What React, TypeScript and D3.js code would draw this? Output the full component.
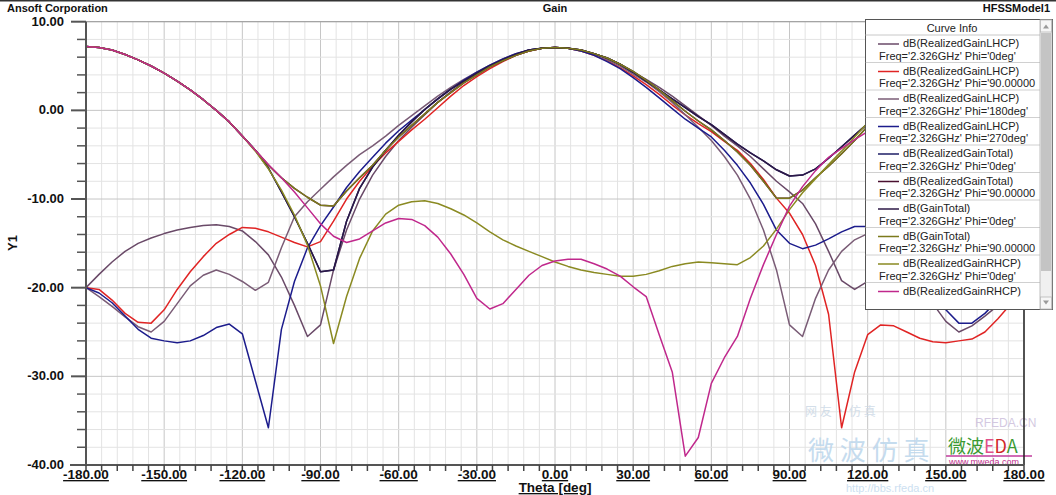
import React from 'react';
import * as d3 from 'd3';

// Theta sample grid (deg) — the simulation is sampled every 5 degrees
const theta = d3.range(-180, 181, 5);

// ---- Series values (dB), theta = -180 .. 180 step 5 ----
const lhcpPhi0 = [
  -20.0, -18.5, -17.1, -15.9, -15.0, -14.4, -13.9, -13.5, -13.2, -13.0, -12.9, -13.1, -13.6, -14.8,
  -16.3, -18.8, -22.0, -25.5, -24.2, -18.0, -13.5, -10.0, -7.3, -5.2, -3.4, -1.9, -0.5, 0.9, 2.1, 3.2, 4.1, 5.0, 5.7, 6.3, 6.7, 7.0,
  7.1, 7.0, 6.8, 6.4, 5.8, 5.1, 4.3, 3.5, 2.6, 1.6, 0.5, -0.6, -1.7, -2.9, -4.0, -5.2, -6.6, -8.0, -9.2, -10.5,
  -12.8, -15.9, -19.2, -20.2, -19.3, -18.5, -18.0, -18.6, -19.8, -21.8, -23.8, -25.0, -24.3, -23.2, -22.0, -21.0, -20.0,
];
const lhcpPhi90 = [
  -20.0, -20.2, -21.4, -22.9, -23.9, -24.0, -22.5, -20.2, -18.2, -16.5, -15.0, -14.0, -13.2, -13.3,
  -13.7, -14.3, -14.9, -15.4, -14.8, -12.5, -10.0, -8.0, -6.3, -4.8, -3.5, -2.2, -1.0, 0.3, 1.6, 2.8, 3.8, 4.7, 5.5, 6.2, 6.7, 7.0,
  7.1, 7.0, 6.7, 6.2, 5.6, 4.8, 3.9, 2.9, 1.8, 0.6, -0.5, -1.5, -2.4, -3.5, -4.5, -6.0, -7.8, -9.9, -11.6, -14.0,
  -17.5, -23.0, -35.8, -29.5, -25.3, -24.2, -24.3, -25.0, -25.7, -26.1, -26.2, -26.0, -25.8, -25.0, -23.5, -21.8, -20.0,
];
const lhcpPhi180 = [
  -20.0, -21.0, -22.1, -23.3, -24.4, -25.0, -23.8, -21.8, -19.8, -18.6, -18.0, -18.5, -19.3, -20.3,
  -19.4, -15.5, -12.0, -10.3, -8.9, -7.5, -6.2, -5.0, -4.0, -2.9, -1.7, -0.6, 0.5, 1.6, 2.6, 3.5, 4.3, 5.1, 5.8, 6.4, 6.8, 7.0,
  7.1, 7.0, 6.7, 6.3, 5.7, 5.0, 4.1, 3.2, 2.1, 0.9, -0.5, -1.9, -3.4, -5.2, -7.3, -10.0, -13.5, -18.0, -24.2, -25.5,
  -21.2, -18.0, -15.9, -14.6, -13.9, -13.1, -12.9, -13.0, -13.2, -13.5, -13.9, -14.4, -15.0, -15.9, -17.1, -18.5, -20.0,
];
const lhcpPhi270 = [
  -20.0, -20.6, -21.7, -23.2, -24.7, -25.7, -26.0, -26.2, -26.0, -25.4, -24.5, -24.1, -25.2, -30.5,
  -35.8, -24.7, -19.3, -15.5, -13.0, -10.9, -8.7, -6.9, -5.3, -3.7, -2.3, -1.1, 0.1, 1.3, 2.4, 3.4, 4.3, 5.1, 5.8, 6.4, 6.8, 7.0,
  7.1, 7.0, 6.7, 6.2, 5.5, 4.7, 3.7, 2.6, 1.4, 0.2, -1.0, -2.0, -3.0, -4.5, -6.2, -8.2, -10.6, -13.5, -15.0, -15.6,
  -15.2, -14.5, -13.7, -13.1, -13.1, -13.8, -15.0, -16.5, -18.3, -20.3, -22.5, -24.0, -24.0, -22.9, -21.4, -20.2, -20.0,
];
const realizedTotalPhi0 = [
  7.2, 7.1, 6.8, 6.3, 5.7, 5.0, 4.2, 3.3, 2.3, 1.2, 0.0, -1.3, -2.9, -4.5,
  -6.5, -9.2, -12.0, -15.0, -18.2, -18.0, -12.5, -8.8, -6.4, -4.5, -2.8, -1.3, 0.1, 1.3, 2.4, 3.3, 4.2, 5.0, 5.7, 6.3, 6.8, 7.0,
  7.1, 7.0, 6.8, 6.4, 5.9, 5.2, 4.3, 3.3, 2.3, 1.3, 0.3, -0.7, -1.6, -2.7, -3.8, -4.8, -5.7, -6.7, -7.4, -7.3,
  -6.6, -5.4, -4.1, -2.8, -1.5, -0.1, 1.2, 2.3, 3.3, 4.2, 5.0, 5.7, 6.2, 6.6, 6.9, 7.1, 7.2,
];
const realizedTotalPhi90 = [
  7.2, 7.1, 6.8, 6.3, 5.7, 5.0, 4.2, 3.3, 2.3, 1.2, 0.0, -1.3, -2.9, -4.5,
  -6.2, -7.6, -8.8, -9.8, -10.7, -10.8, -9.1, -7.6, -6.2, -4.5, -3.0, -1.7, -0.4, 0.9, 2.0, 3.1, 4.0, 4.9, 5.6, 6.2, 6.7, 7.0,
  7.1, 7.0, 6.8, 6.4, 5.9, 5.2, 4.4, 3.4, 2.3, 1.1, -0.1, -1.2, -2.2, -3.4, -4.7, -6.2, -8.0, -9.9, -9.9, -9.0,
  -7.6, -6.3, -4.9, -3.4, -1.8, -0.3, 1.1, 2.3, 3.4, 4.3, 5.1, 5.8, 6.3, 6.7, 7.0, 7.1, 7.2,
];
const gainTotalPhi0 = [
  7.2, 7.1, 6.8, 6.3, 5.7, 5.0, 4.2, 3.3, 2.3, 1.2, 0.0, -1.3, -2.9, -4.5,
  -6.5, -9.2, -12.0, -15.0, -18.2, -18.0, -12.5, -8.8, -6.4, -4.5, -2.8, -1.3, 0.1, 1.3, 2.4, 3.3, 4.2, 5.0, 5.7, 6.3, 6.8, 7.0,
  7.1, 7.0, 6.8, 6.4, 5.9, 5.2, 4.3, 3.3, 2.3, 1.3, 0.3, -0.7, -1.6, -2.7, -3.8, -4.8, -5.7, -6.7, -7.4, -7.3,
  -6.6, -5.4, -4.1, -2.8, -1.5, -0.1, 1.2, 2.3, 3.3, 4.2, 5.0, 5.7, 6.2, 6.6, 6.9, 7.1, 7.2,
];
const gainTotalPhi90 = [
  7.2, 7.1, 6.8, 6.3, 5.7, 5.0, 4.2, 3.3, 2.3, 1.2, 0.0, -1.3, -2.9, -4.5,
  -6.2, -7.6, -8.8, -9.8, -10.7, -10.8, -9.1, -7.6, -6.2, -4.5, -3.0, -1.7, -0.4, 0.9, 2.0, 3.1, 4.0, 4.9, 5.6, 6.2, 6.7, 7.0,
  7.1, 7.0, 6.8, 6.4, 5.9, 5.2, 4.4, 3.4, 2.3, 1.1, -0.1, -1.2, -2.2, -3.4, -4.7, -6.2, -8.0, -9.9, -9.9, -9.0,
  -7.6, -6.3, -4.9, -3.4, -1.8, -0.3, 1.1, 2.3, 3.4, 4.3, 5.1, 5.8, 6.3, 6.7, 7.0, 7.1, 7.2,
];
const rhcpPhi0 = [
  7.2, 7.1, 6.8, 6.3, 5.7, 5.0, 4.2, 3.3, 2.3, 1.2, 0.0, -1.3, -2.9, -4.6,
  -6.6, -9.0, -11.8, -15.2, -19.8, -26.3, -21.0, -16.7, -13.6, -11.7, -10.7, -10.3, -10.2, -10.5, -11.1, -11.8, -12.7, -13.7, -14.6, -15.3, -15.9, -16.5,
  -17.1, -17.6, -18.0, -18.3, -18.5, -18.7, -18.7, -18.5, -18.1, -17.6, -17.3, -17.1, -17.2, -17.3, -17.4, -16.6, -15.3, -13.4, -11.2, -9.3,
  -7.7, -6.1, -4.6, -3.0, -1.4, 0.0, 1.3, 2.4, 3.4, 4.3, 5.0, 5.7, 6.2, 6.6, 6.9, 7.1, 7.2,
];
const rhcpPhi90 = [
  7.2, 7.1, 6.8, 6.3, 5.7, 5.0, 4.2, 3.3, 2.3, 1.2, 0.0, -1.3, -2.9, -4.5,
  -6.1, -7.6, -9.2, -11.0, -12.8, -14.2, -14.9, -14.5, -13.6, -12.7, -12.2, -12.3, -13.0, -14.3, -16.2, -18.5, -21.2, -22.4, -21.8, -20.2, -18.6, -17.5,
  -17.0, -16.8, -16.8, -17.3, -17.9, -18.7, -19.9, -21.0, -25.3, -29.5, -39.0, -36.9, -30.8, -27.9, -25.5, -21.2, -17.4, -14.0, -10.8, -8.6,
  -6.8, -5.3, -4.3, -3.3, -2.4, -1.0, 0.4, 1.7, 2.9, 3.9, 4.8, 5.5, 6.1, 6.6, 6.9, 7.1, 7.2,
];

// ---- Legend / series descriptors ----
const seriesTitles = [
  'dB(RealizedGainLHCP)', 'dB(RealizedGainLHCP)', 'dB(RealizedGainLHCP)', 'dB(RealizedGainLHCP)',
  'dB(RealizedGainTotal)', 'dB(RealizedGainTotal)', 'dB(GainTotal)', 'dB(GainTotal)',
  'dB(RealizedGainRHCP)', 'dB(RealizedGainRHCP)',
];
const seriesFreq = [
  "Freq='2.326GHz' Phi='0deg'", "Freq='2.326GHz' Phi='90.00000", "Freq='2.326GHz' Phi='180deg'",
  "Freq='2.326GHz' Phi='270deg'", "Freq='2.326GHz' Phi='0deg'", "Freq='2.326GHz' Phi='90.00000",
  "Freq='2.326GHz' Phi='0deg'", "Freq='2.326GHz' Phi='90.00000", "Freq='2.326GHz' Phi='0deg'",
  "Freq='2.326GHz' Phi='90.00000",
];
const seriesValues = [
  lhcpPhi0, lhcpPhi90, lhcpPhi180, lhcpPhi270,
  realizedTotalPhi0, realizedTotalPhi90, gainTotalPhi0, gainTotalPhi90,
  rhcpPhi0, rhcpPhi90,
];
const seriesColors = [
  '#6a4a68', '#e02424', '#7a5c76', '#1c1c8c',
  '#1e1e66', '#4a1030', '#2c1846', '#7c7a1c',
  '#8a8a22', '#c0288c',
];

const xTicks = [-180, -150, -120, -90, -60, -30, 0, 30, 60, 90, 120, 150, 180];
const xTickLabels = ['-180.00', '-150.00', '-120.00', '-90.00', '-60.00', '-30.00', '0.00', '30.00', '60.00', '90.00', '120.00', '150.00', '180.00'];
const yTicks = [10, 0, -10, -20, -30, -40];
const yTickLabels = ['10.00', '0.00', '-10.00', '-20.00', '-30.00', '-40.00'];

const FONT = "'Liberation Sans', Arial, Helvetica, sans-serif";

export default function App() {
  const W = 1056, H = 495;
  const L = 86, R = 1024, T = 21.7, B = 465;
  const x = d3.scaleLinear().domain([-180, 180]).range([L, R]);
  const y = d3.scaleLinear().domain([-40, 10]).range([B, T]);

  const line = d3.line<number>()
    .x((_, i) => x(theta[i]))
    .y((v) => y(v));

  const vMinor = d3.range(-180, 181, 6);
  const hMinor = d3.range(-40, 11, 2);

  // legend geometry
  const LX = 865.5, LY = 19.5, LW = 187, LH = 290;
  const sbX = 1040;
  const entryY = (k: number) => 43 + 27.5 * k;

  return (
    <svg width={W} height={H} style={{ position: 'absolute', left: 0, top: 0, background: '#fff' }}
      fontFamily={FONT}>
      <defs>
        <clipPath id="plotClip"><rect x={L} y={T} width={R - L} height={B - T} /></clipPath>
        <clipPath id="legClip"><rect x={LX} y={LY} width={sbX - LX} height={277} /></clipPath>
      </defs>
      <rect x={0} y={0} width={W} height={H} fill="#fff" />
      <rect x={0} y={0} width={W} height={1.5} fill="#333" />

      {/* header */}
      <text x={7} y={12} fontSize={11} fontWeight="bold" fill="#111">Ansoft Corporation</text>
      <text x={555} y={12} fontSize={11} fontWeight="bold" fill="#111" textAnchor="middle">Gain</text>
      <text x={1050} y={12} fontSize={11} fontWeight="bold" fill="#111" textAnchor="end">HFSSModel1</text>

      {/* grid */}
      {vMinor.map((t) => (
        <line key={'vg' + t} x1={x(t)} x2={x(t)} y1={T} y2={B}
          stroke={t % 30 === 0 ? '#c6c6c6' : '#e3e3e3'} strokeWidth={1} />
      ))}
      {hMinor.map((v) => (
        <line key={'hg' + v} x1={L} x2={R} y1={y(v)} y2={y(v)}
          stroke={v % 10 === 0 ? '#c6c6c6' : '#e3e3e3'} strokeWidth={1} />
      ))}

      {/* watermark (faint) */}
      <g opacity={0.85}>
        <text x={805} y={416} fontSize={12} fill="#ccd9e6" fontFamily="'Noto Sans CJK SC'">网 友 · 仿 真</text>
        <text x={808} y={460} fontSize={26} fill="#bcd6ec" fontFamily="'Noto Sans CJK SC'">微 波 仿 真</text>
        <text x={975} y={427} fontSize={12} fill="#cdbfdc">RFEDA.CN</text>
        <text x={846} y={491.5} fontSize={11} fill="#c4dbef">http://bbs.rfeda.cn</text>
      </g>

      {/* curves */}
      <g clipPath="url(#plotClip)" fill="none">
        {seriesValues.map((vals, k) => (
          <path key={'s' + k} d={line(vals) || ''} stroke={seriesColors[k]} strokeWidth={1.5}
            strokeLinejoin="round" />
        ))}
      </g>

      {/* watermark foreground */}
      <g>
        <text x={948} y={453} fontSize={18} fontFamily="'Noto Sans CJK SC'">
          <tspan fill="#3a9a32">微波</tspan><tspan fill="#e0508a">E</tspan><tspan fill="#d02828">D</tspan><tspan fill="#3a9a32">A</tspan>
        </text>
        <line x1={946} x2={1032} y1={456} y2={456} stroke="#c03c9c" strokeWidth={1.5} />
        <text x={949} y={465} fontSize={9} fill="#c0308e">www.mweda.com</text>
      </g>

      {/* plot frame */}
      <line x1={R} x2={R} y1={T} y2={B} stroke="#222" strokeWidth={1.5} />
      <line x1={L} x2={R} y1={T} y2={T} stroke="#9a9a9a" strokeWidth={1} />
      <line x1={L} x2={L} y1={T} y2={B + 1} stroke="#555" strokeWidth={2} />
      <line x1={70} x2={R} y1={B} y2={B} stroke="#555" strokeWidth={2} />

      {/* y ticks */}
      {hMinor.map((v) => (
        <line key={'yt' + v} x1={v % 10 === 0 ? 71 : 77} x2={L} y1={y(v)} y2={y(v)}
          stroke="#555" strokeWidth={v % 10 === 0 ? 2 : 1.5} />
      ))}
      {yTicks.map((v, i) => (
        <text key={'yl' + v} x={64} y={y(v) + 4} fontSize={13} fontWeight="bold" fill="#111" textAnchor="end">
          {yTickLabels[i]}
        </text>
      ))}
      <text x={0} y={0} fontSize={13} fontWeight="bold" fill="#111" textAnchor="middle"
        transform={`translate(17,243) rotate(-90)`}>Y1</text>

      {/* x ticks */}
      {vMinor.map((t) => (
        <line key={'xt' + t} x1={x(t)} x2={x(t)} y1={B} y2={B + 6} stroke="#444" strokeWidth={1.5} />
      ))}
      {xTicks.map((t, i) => (
        <text key={'xl' + t} x={x(t)} y={479} fontSize={13.5} fontWeight="bold" fill="#111" textAnchor="middle"
          style={{ textDecoration: 'underline' }}>
          {xTickLabels[i]}
        </text>
      ))}
      <text x={555} y={492} fontSize={13.5} fontWeight="bold" fill="#111" textAnchor="middle"
        style={{ textDecoration: 'underline' }}>Theta [deg]</text>

      {/* legend */}
      <rect x={LX} y={LY} width={LW} height={LH} fill="#fff" stroke="#555" strokeWidth={1} />
      <text x={952} y={31.5} fontSize={11} fill="#222" textAnchor="middle">Curve Info</text>
      <line x1={LX} x2={sbX} y1={35} y2={35} stroke="#c8c8c8" />
      <g clipPath="url(#legClip)">
        {seriesTitles.map((t, k) => (
          <g key={'lg' + k}>
            {k > 0 && <line x1={LX} x2={sbX} y1={entryY(k) - 8} y2={entryY(k) - 8} stroke="#d0d0d0" />}
            <line x1={878} x2={899} y1={entryY(k) + 1} y2={entryY(k) + 1} stroke={seriesColors[k]} strokeWidth={1.5} />
            <text x={903} y={entryY(k) + 4} fontSize={11} fill="#222">{t}</text>
            <text x={879} y={entryY(k) + 16.5} fontSize={11} fill="#222">{seriesFreq[k]}</text>
          </g>
        ))}
      </g>
      {/* scrollbar */}
      <rect x={sbX} y={LY + 0.5} width={12} height={LH - 1} fill="#f0f0f0" stroke="#b0b0b0" strokeWidth={0.8} />
      <rect x={sbX + 1} y={33} width={10} height={238} fill="#c4c4c4" />
      <rect x={sbX + 0.5} y={LY + 0.5} width={11} height={12} fill="#f6f6f6" stroke="#b8b8b8" strokeWidth={0.8} />
      <path d={`M${sbX + 3},${LY + 9} L${sbX + 6},${LY + 5} L${sbX + 9},${LY + 9} Z`} fill="#9a9a9a" />
      <rect x={sbX + 0.5} y={LY + LH - 12.5} width={11} height={12} fill="#f6f6f6" stroke="#b8b8b8" strokeWidth={0.8} />
      <path d={`M${sbX + 3},${LY + LH - 9} L${sbX + 6},${LY + LH - 5} L${sbX + 9},${LY + LH - 9} Z`} fill="#9a9a9a" />
    </svg>
  );
}
